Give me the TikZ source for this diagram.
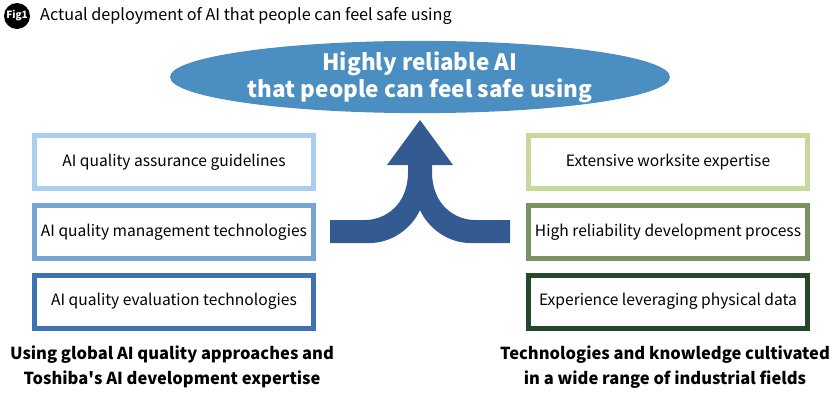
\documentclass[tikz,border=0pt]{standalone}
\usepackage{fontspec}
\setmainfont{Noto Sans CJK JP}
\usepackage{tikz}
\usetikzlibrary{shapes.geometric}
\definecolor{goalblue}{RGB}{74,142,194}
\definecolor{arrowblue}{RGB}{52,90,146}
\definecolor{blueA}{RGB}{170,206,238}
\definecolor{blueB}{RGB}{118,164,212}
\definecolor{blueC}{RGB}{62,114,180}
\definecolor{greenA}{RGB}{198,216,154}
\definecolor{greenB}{RGB}{120,146,96}
\definecolor{greenC}{RGB}{38,72,42}
\tikzstyle{item} = [draw, line width=5pt, fill=white, minimum width=279pt, minimum height=53pt, inner sep=0pt, font=\fontsize{15.6}{18}\selectfont]
\tikzstyle{caption} = [align=center, font=\bfseries\fontsize{16.5}{25}\selectfont]

\begin{document}
\begin{tikzpicture}[x=1pt, y=-1pt]
		\useasboundingbox (0,0) rectangle (840,400);

		% figure label and title
		\node[circle, fill=black, text=white, minimum size=26pt, inner sep=0pt, font=\bfseries\fontsize{10}{11}\selectfont] (fig) at (17,16) {Fig1};
		\node[anchor=west, inner sep=0pt, font=\fontsize{16.2}{18}\selectfont] (title) at (40,16) {Actual deployment of AI that people can feel safe using};

		% goal
		\node[ellipse, fill=goalblue, minimum width=500pt, minimum height=70pt, inner sep=0pt, text=white, align=center, font=\bfseries\fontsize{22.5}{27}\selectfont] (goal) at (420,77) {Highly reliable AI\\that people can feel safe using};

		% merging arrow
		\fill[arrowblue] (420,120) -- (453,165) -- (432,165) -- (432,172)
			.. controls (432,205) and (455,220) .. (475,220) -- (510,220) -- (510,243) -- (470,243)
			.. controls (448,243) and (428,228) .. (420,210)
			.. controls (412,228) and (392,243) .. (370,243) -- (330,243) -- (330,220) -- (365,220)
			.. controls (385,220) and (408,205) .. (408,172) -- (408,165) -- (387,165) -- cycle;

		% left column
		\node[item, draw=blueA] (guide) at (174,162) {AI quality assurance guidelines};
		\node[item, draw=blueB] (manage) at (174,232) {AI quality management technologies};
		\node[item, draw=blueC] (eval) at (174,301.5) {AI quality evaluation technologies};
		\node[caption] (lcap) at (172,367) {Using global AI quality approaches and\\Toshiba\textquotesingle s AI development expertise};

		% right column
		\node[item, draw=greenA] (site) at (668,162) {Extensive worksite expertise};
		\node[item, draw=greenB] (process) at (668,232) {High reliability development process};
		\node[item, draw=greenC] (data) at (668,301.5) {Experience leveraging physical data};
		\node[caption] (rcap) at (665,367) {Technologies and knowledge cultivated\\in a wide range of industrial fields};
	\end{tikzpicture}
\end{document}
